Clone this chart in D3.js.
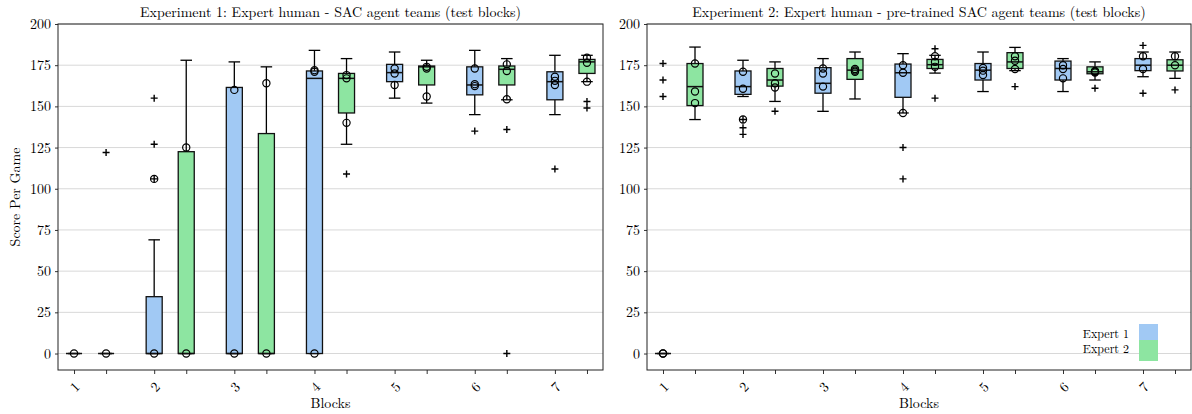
<!DOCTYPE html>
<html>
<head>
<meta charset="utf-8">
<script src="https://cdn.jsdelivr.net/npm/d3@7"></script>
<style>
  body { margin: 0; background: #fff; }
  text { font-family: "Latin Modern Roman", "CMU Serif", "Liberation Serif", serif; fill: #000; }
</style>
</head>
<body>
<div id="chart"></div>
<script>
// Score per game box plots, two experiments side by side.
// Each array is ordered block 1 Expert 1, block 1 Expert 2, block 2 Expert 1, ...
var blocks = ["1", "2", "3", "4", "5", "6", "7"];
var experts = ["Expert 1", "Expert 2"];
var yTicks = [0, 25, 50, 75, 100, 125, 150, 175, 200];

var exp1Title = "Experiment 1: Expert human - SAC agent teams (test blocks)";
var exp1Q1 = [0, 0, 0, 0, 0, 0, 0, 146, 165, 163, 157, 163, 154, 170];
var exp1Q3 = [0, 0, 34.5, 122.5, 161.5, 133.5, 171.5, 170, 175.5, 174.5, 174, 174.5, 171, 178.5];
var exp1Median = [0, 0, 0, 0, 0, 0, 167, 167, 170.5, 174, 163, 172.5, 165, 177];
var exp1WhiskerLo = [0, 0, 0, 0, 0, 0, 0, 127, 155, 152, 145, 154, 145, 165];
var exp1WhiskerHi = [0, 0, 69, 178, 177, 174, 184, 179, 183, 178, 184, 179, 181, 181];
var exp1Fliers = [[], [122], [155, 127, 106], [], [], [], [], [109], [], [], [135], [136, 0], [112], [153, 149]];
var exp1Points = [[0], [0], [0, 106], [0, 125], [0, 160], [0, 164], [0, 171, 172],
  [169, 167, 140], [173, 170, 163], [174, 173, 156], [173, 163.5, 162.3],
  [175.5, 171.5, 154.3], [168, 165.5, 163], [179.5, 176.5, 165]];

var exp2Title = "Experiment 2: Expert human - pre-trained SAC agent teams (test blocks)";
var exp2Q1 = [0, 150.5, 157.3, 162.3, 158, 166.4, 155.5, 173, 166, 173, 166, 169.8, 171.7, 171.5];
var exp2Q3 = [0, 176, 171.5, 173, 173.5, 179, 175.7, 178.5, 176, 182.6, 177.5, 174, 179, 178.3];
var exp2Median = [0, 162, 162, 166, 164, 172, 170.4, 175.3, 172, 177, 173, 171, 175, 175];
var exp2WhiskerLo = [0, 142, 156, 153, 147, 154.5, 146, 170.2, 159, 171.7, 159, 166, 168, 167];
var exp2WhiskerHi = [0, 186, 178, 177, 179, 183, 182, 181, 183, 185.8, 179, 177, 183, 183];
var exp2Fliers = [[176, 166, 156], [], [142, 137, 133], [147], [], [], [125, 106], [185, 155],
  [], [162], [], [161], [187, 158], [160]];
var exp2Points = [[0, 0], [176, 159, 152], [171, 160.7, 142], [170, 164, 161.5], [173, 170, 162],
  [172.7, 171, 171.8], [175, 170.4, 146], [180.4, 177, 174], [173.3, 171.7, 169],
  [180.4, 177.7, 172.7], [175, 172.7, 167], [171, 170.5, 171.5], [180.4, 172.7], [180.4, 175]];

var colors = ["#a1c9f4", "#8de5a1"];

var W = 1192, H = 414;
var margin = {top: 24, bottom: 44};
var panels = [
  {left: 58, right: 603, title: exp1Title, q1: exp1Q1, q3: exp1Q3, med: exp1Median,
   lo: exp1WhiskerLo, hi: exp1WhiskerHi, fliers: exp1Fliers, points: exp1Points, yLabel: true},
  {left: 647, right: 1191, title: exp2Title, q1: exp2Q1, q3: exp2Q3, med: exp2Median,
   lo: exp2WhiskerLo, hi: exp2WhiskerHi, fliers: exp2Fliers, points: exp2Points, legend: true}
];

var svg = d3.select("#chart").append("svg")
  .attr("width", W).attr("height", H);

var boxWidth = 0.5, capWidth = 0.36;

function position(i) {
  var b = Math.floor(i / 2), g = i % 2;
  return 1 + 2.5 * b + g;
}

function drawPanel(p) {
  var x = d3.scaleLinear().domain([0.5, 17.5]).range([p.left, p.right]);
  var y = d3.scaleLinear().domain([-10, 200]).range([H - margin.bottom, margin.top]);
  var g = svg.append("g");

  // grid lines
  g.append("g").selectAll("line").data(yTicks).join("line")
    .attr("x1", p.left).attr("x2", p.right)
    .attr("y1", function(d) { return y(d); }).attr("y2", function(d) { return y(d); })
    .attr("stroke", "#d8d8d8").attr("stroke-width", 1);

  // axes
  var tickPos = d3.range(14).map(position);
  var xAxis = d3.axisBottom(x).tickValues(tickPos).tickSize(4).tickFormat("");
  var yAxis = d3.axisLeft(y).tickValues(yTicks).tickSize(3).tickFormat(d3.format("d"));

  var gx = g.append("g").attr("transform", "translate(0," + (H - margin.bottom) + ")").call(xAxis);
  gx.select(".domain").remove();
  gx.selectAll("line").attr("stroke", "#333");
  g.append("g").selectAll("text").data(blocks).join("text")
    .attr("transform", function(d, i) {
      return "translate(" + x(position(i * 2)) + "," + (H - margin.bottom + 16) + ") rotate(-45)";
    })
    .attr("text-anchor", "middle").attr("dominant-baseline", "central")
    .attr("font-size", 14).text(function(d) { return d; });

  var gy = g.append("g").attr("transform", "translate(" + p.left + ",0)").call(yAxis);
  gy.select(".domain").remove();
  gy.selectAll("line").attr("stroke", "#333");
  gy.selectAll("text").attr("font-size", 14).attr("font-family", null).attr("dx", -1);

  // frame
  g.append("rect")
    .attr("x", p.left).attr("y", margin.top)
    .attr("width", p.right - p.left).attr("height", H - margin.bottom - margin.top)
    .attr("fill", "none").attr("stroke", "#222").attr("stroke-width", 1);

  // boxes
  var idx = d3.range(14);
  var box = g.append("g").selectAll("g").data(idx).join("g");

  box.append("line") // whisker low
    .attr("x1", function(i) { return x(position(i)); }).attr("x2", function(i) { return x(position(i)); })
    .attr("y1", function(i) { return y(p.q1[i]); }).attr("y2", function(i) { return y(p.lo[i]); })
    .attr("stroke", "#000").attr("stroke-width", 1.3);
  box.append("line") // whisker high
    .attr("x1", function(i) { return x(position(i)); }).attr("x2", function(i) { return x(position(i)); })
    .attr("y1", function(i) { return y(p.q3[i]); }).attr("y2", function(i) { return y(p.hi[i]); })
    .attr("stroke", "#000").attr("stroke-width", 1.3);
  ["lo", "hi"].forEach(function(k) {
    box.append("line")
      .attr("x1", function(i) { return x(position(i) - capWidth / 2); })
      .attr("x2", function(i) { return x(position(i) + capWidth / 2); })
      .attr("y1", function(i) { return y(p[k][i]); }).attr("y2", function(i) { return y(p[k][i]); })
      .attr("stroke", "#000").attr("stroke-width", 1.3);
  });
  box.append("rect")
    .attr("x", function(i) { return x(position(i) - boxWidth / 2); })
    .attr("width", x(boxWidth) - x(0))
    .attr("y", function(i) { return y(p.q3[i]); })
    .attr("height", function(i) { return y(p.q1[i]) - y(p.q3[i]); })
    .attr("fill", function(i) { return colors[i % 2]; })
    .attr("stroke", "#111").attr("stroke-width", 1.3);
  box.append("line") // median
    .attr("x1", function(i) { return x(position(i) - boxWidth / 2); })
    .attr("x2", function(i) { return x(position(i) + boxWidth / 2); })
    .attr("y1", function(i) { return y(p.med[i]); }).attr("y2", function(i) { return y(p.med[i]); })
    .attr("stroke", "#111").attr("stroke-width", 1.5);

  // fliers as "+"
  var fl = [];
  idx.forEach(function(i) { p.fliers[i].forEach(function(v) { fl.push({i: i, v: v}); }); });
  g.append("g").selectAll("path").data(fl).join("path")
    .attr("d", function(d) {
      var cx = x(position(d.i)), cy = y(d.v), s = 3.5;
      return "M" + (cx - s) + "," + cy + "H" + (cx + s) + "M" + cx + "," + (cy - s) + "V" + (cy + s);
    })
    .attr("stroke", "#000").attr("stroke-width", 1.4).attr("fill", "none");

  // individual points as open circles
  var pts = [];
  idx.forEach(function(i) { p.points[i].forEach(function(v) { pts.push({i: i, v: v}); }); });
  g.append("g").selectAll("circle").data(pts).join("circle")
    .attr("cx", function(d) { return x(position(d.i)); })
    .attr("cy", function(d) { return y(d.v); })
    .attr("r", 3.6)
    .attr("fill", "none").attr("stroke", "#000").attr("stroke-width", 1.2);

  // title and labels
  var cx = (p.left + p.right) / 2;
  g.append("text").attr("x", cx).attr("y", 17).attr("text-anchor", "middle")
    .attr("font-size", 14).text(p.title);
  g.append("text").attr("x", cx).attr("y", 408).attr("text-anchor", "middle")
    .attr("font-size", 14).text("Blocks");
  if (p.yLabel) {
    g.append("text")
      .attr("transform", "translate(20," + ((margin.top + H - margin.bottom) / 2) + ") rotate(-90)")
      .attr("text-anchor", "middle").attr("font-size", 14).text("Score Per Game");
  }

  if (p.legend) {
    var lx = p.right - 52, ly = H - margin.bottom - 46;
    var leg = g.append("g");
    leg.append("rect").attr("x", lx).attr("y", ly).attr("width", 19).attr("height", 16).attr("fill", colors[0]);
    leg.append("rect").attr("x", lx).attr("y", ly + 16).attr("width", 19).attr("height", 21).attr("fill", colors[1]);
    leg.selectAll("text").data(experts).join("text")
      .attr("x", lx - 10).attr("y", function(d, i) { return ly + 14 + i * 15; })
      .attr("text-anchor", "end").attr("font-size", 12).text(function(d) { return d; });
  }
}

panels.forEach(drawPanel);
</script>
</body>
</html>
